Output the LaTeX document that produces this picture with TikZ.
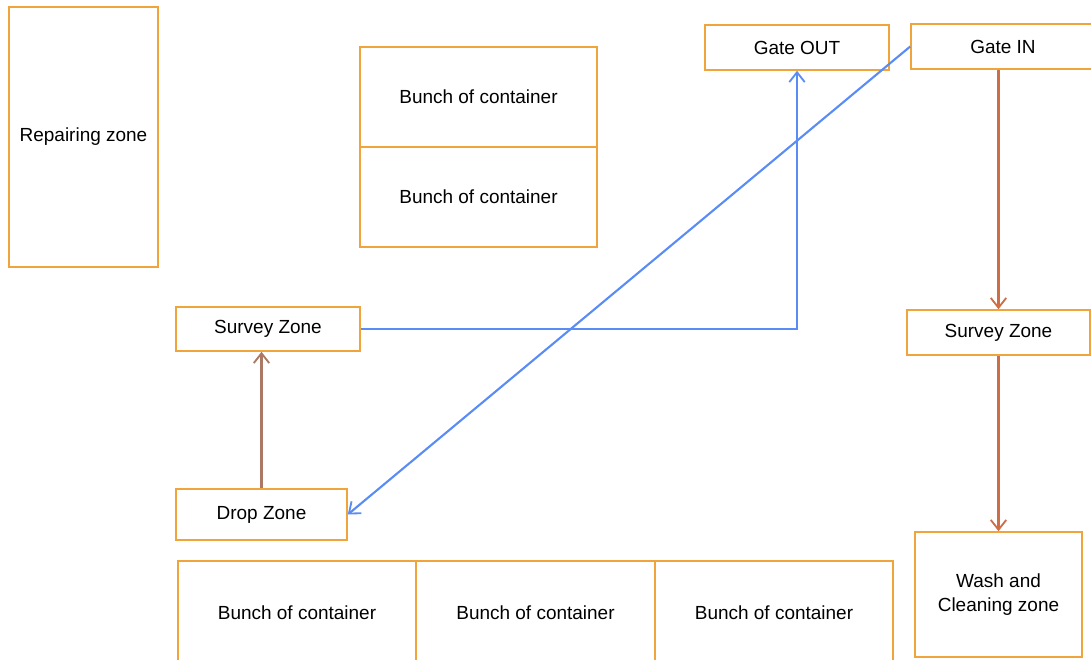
\documentclass[tikz,border=0pt]{standalone}
\usepackage{fontspec}
\setmainfont{Liberation Sans}
\usetikzlibrary{arrows.meta,positioning}
\definecolor{zoneorange}{RGB}{240,165,60}
\definecolor{flowblue}{RGB}{90,140,245}
\definecolor{flowtan}{RGB}{170,120,100}
\definecolor{flowrust}{RGB}{205,110,70}
\begin{document}
\begin{tikzpicture}[x=0.025cm, y=-0.025cm,
  every node/.style = {shape=rectangle, draw=zoneorange, line width=1.1pt,
    align=center, font=\fontsize{13.5}{16.5}\selectfont, inner sep=0pt},
  flow/.style = {line width=1.5pt, -{Straight Barb[length=7pt,width=11pt,line width=1.3pt]}}]
  \useasboundingbox (0,0) rectangle (1091,659);
  \clip (0,0) rectangle (1091,659);
  % zones
  \node[minimum width=3.725cm, minimum height=6.5cm] (repair) at (83.5,137) {Repairing zone};
  \node[minimum width=5.925cm, minimum height=2.5cm] (bunchA) at (478.5,97) {Bunch of container};
  \node[minimum width=5.925cm, minimum height=2.5cm] (bunchB) at (478.5,197) {Bunch of container};
  \node[minimum width=4.6cm, minimum height=1.125cm] (gateout) at (797,47.5) {Gate OUT};
  \node[minimum width=4.6cm, minimum height=1.125cm] (gatein) at (1003,46.5) {Gate IN};
  \node[minimum width=4.6cm, minimum height=1.1cm] (surveyL) at (268,329) {Survey Zone};
  \node[minimum width=4.575cm, minimum height=1.125cm] (surveyR) at (998.5,332.5) {Survey Zone};
  \node[minimum width=4.275cm, minimum height=1.275cm] (drop) at (261.5,514.5) {Drop Zone};
  \node[minimum width=4.175cm, minimum height=3.125cm] (wash) at (998.5,594.5) {Wash and\\Cleaning zone};
  \node[minimum width=5.95cm, minimum height=2.6cm] (bunchC) at (297,613) {Bunch of container};
  \node[minimum width=5.975cm, minimum height=2.6cm] (bunchD) at (535.5,613) {Bunch of container};
  \node[minimum width=5.95cm, minimum height=2.6cm] (bunchE) at (774,613) {Bunch of container};
  % flows
  \draw[flow, flowblue] (gatein.west) -- (drop.east);
  \draw[flow, flowblue] (surveyL.east) -| (gateout.south);
  \draw[flow, flowtan] (drop.north) -- (drop.north |- surveyL.south);
  \draw[flow, flowrust] (surveyR.north |- gatein.south) -- (surveyR.north);
  \draw[flow, flowrust] (surveyR.south) -- (wash.north);
\end{tikzpicture}
\end{document}
